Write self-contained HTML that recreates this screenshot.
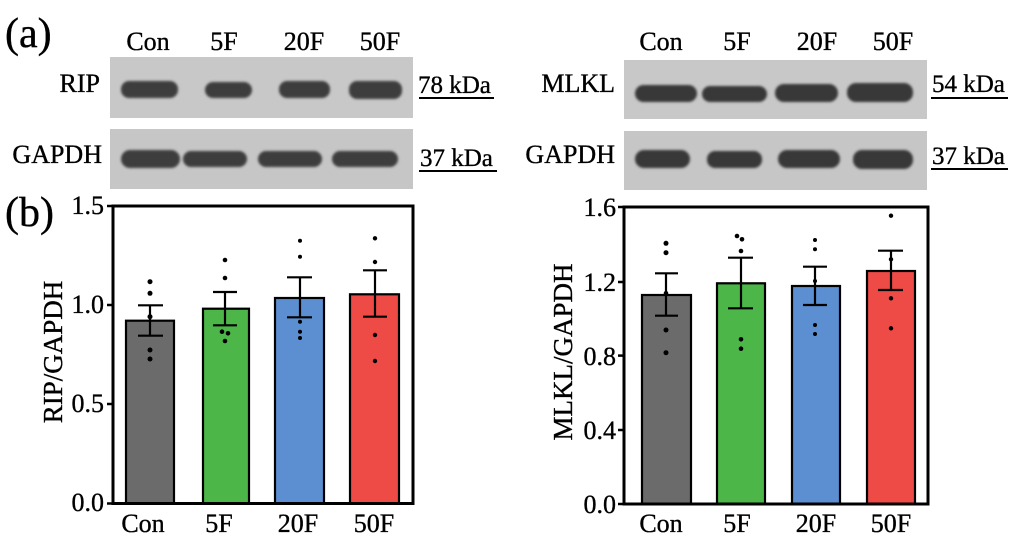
<!DOCTYPE html>
<html><head><meta charset="utf-8"><style>
html,body{margin:0;padding:0;background:#fff;}
svg{display:block;font-family:"Liberation Serif",serif;}
text{stroke:#000;stroke-width:0.35;}
</style></head><body>
<svg width="1015" height="540" viewBox="0 0 1015 540" xmlns="http://www.w3.org/2000/svg">
<defs>
<filter id="bl" x="-20%" y="-50%" width="140%" height="200%"><feGaussianBlur stdDeviation="1.2"/></filter>
</defs>
<rect width="1015" height="540" fill="#fff"/>

<!-- (a) -->
<text x="5" y="47" font-size="42">(a)</text>
<g font-size="26" text-anchor="middle">
<text x="148" y="50">Con</text><text x="224" y="50">5F</text><text x="304" y="50">20F</text><text x="380" y="50">50F</text>
<text x="661" y="50">Con</text><text x="737" y="50">5F</text><text x="817" y="50">20F</text><text x="893" y="50">50F</text>
</g>

<!-- left blots -->
<rect x="110" y="57" width="303" height="61" fill="#c8c8c8"/>
<rect x="110" y="129" width="303" height="60" fill="#c6c6c6"/>
<g fill="#3c3c3c" filter="url(#bl)">
<rect x="121" y="81" width="57" height="17" rx="8"/>
<rect x="205" y="82" width="47" height="16" rx="8"/>
<rect x="279" y="81" width="51" height="17" rx="8"/>
<rect x="349" y="81" width="53" height="18" rx="8"/>
<rect x="121" y="150" width="59" height="18" rx="9"/>
<rect x="183" y="151" width="64" height="16" rx="8"/>
<rect x="258" y="151" width="64" height="16" rx="8"/>
<rect x="332" y="151" width="66" height="16" rx="8"/>
</g>
<g font-size="26">
<text x="100" y="92" text-anchor="end">RIP</text>
<text x="102" y="163" text-anchor="end">GAPDH</text>
<text x="418" y="93" font-size="25">78 kDa</text>
<text x="420" y="166" font-size="25">37 kDa</text>
</g>
<line x1="419" y1="98" x2="494" y2="98" stroke="#000" stroke-width="2"/>
<line x1="419" y1="171" x2="497" y2="171" stroke="#000" stroke-width="2"/>

<!-- right blots -->
<rect x="624" y="60" width="303" height="59" fill="#c8c8c8"/>
<rect x="624" y="131" width="303" height="59" fill="#c6c6c6"/>
<g fill="#383838" filter="url(#bl)">
<rect x="635" y="85" width="62" height="17" rx="8.5"/>
<rect x="702" y="86" width="65" height="16" rx="8"/>
<rect x="775" y="84" width="63" height="18" rx="9"/>
<rect x="847" y="83" width="66" height="19" rx="9"/>
<rect x="635" y="150" width="55" height="18" rx="9"/>
<rect x="707" y="151" width="55" height="17" rx="8"/>
<rect x="778" y="150" width="62" height="18" rx="9"/>
<rect x="853" y="150" width="60" height="19" rx="9"/>
</g>
<g font-size="26">
<text x="615" y="92" text-anchor="end">MLKL</text>
<text x="615" y="163" text-anchor="end">GAPDH</text>
<text x="932" y="92" font-size="25">54 kDa</text>
<text x="932" y="164" font-size="25">37 kDa</text>
</g>
<line x1="931" y1="98" x2="1008" y2="98" stroke="#000" stroke-width="2"/>
<line x1="931" y1="169" x2="1008" y2="169" stroke="#000" stroke-width="2"/>

<!-- (b) -->
<text x="5" y="226" font-size="42">(b)</text>

<!-- left chart -->
<g stroke="#000" stroke-width="2.2">
<rect x="126" y="320.7" width="48" height="182.8" fill="#6b6b6b"/>
<rect x="203" y="308.7" width="46" height="194.8" fill="#4cb748"/>
<rect x="275" y="298" width="49" height="205.5" fill="#5b8fd2"/>
<rect x="350" y="294.3" width="49" height="209.2" fill="#ee4a46"/>
</g>
<g stroke="#000" stroke-width="2.2" fill="none">
<path d="M150 305.3V335.7M138 305.3H163M138 335.7H163"/>
<path d="M225 292V325.3M213 292H237M213 325.3H237"/>
<path d="M300 277.3V317.3M287 277.3H312M287 317.3H312"/>
<path d="M375 270.3V316.7M363 270.3H387M363 316.7H387"/>
</g>
<g fill="#000">
<circle cx="150" cy="281.7" r="2.5"/><circle cx="150" cy="293.3" r="2.5"/><circle cx="150" cy="316.7" r="2.5"/><circle cx="150" cy="350" r="2.5"/><circle cx="150" cy="359" r="2.5"/>
<circle cx="225" cy="260" r="2.3"/><circle cx="225" cy="278" r="2.3"/><circle cx="222" cy="331.7" r="2.3"/><circle cx="228" cy="333.3" r="2.3"/><circle cx="225" cy="341" r="2.3"/>
<circle cx="300" cy="240.7" r="2"/><circle cx="300" cy="256.7" r="2"/><circle cx="300" cy="321.7" r="2"/><circle cx="300" cy="331.7" r="2"/><circle cx="300" cy="338" r="2"/>
<circle cx="375" cy="238.3" r="2.2"/><circle cx="375" cy="262" r="2.2"/><circle cx="375" cy="335" r="2.2"/><circle cx="375" cy="361" r="2.2"/>
</g>
<rect x="113" y="206" width="300" height="297.5" fill="none" stroke="#000" stroke-width="3"/>
<g stroke="#000" stroke-width="2.5">
<line x1="107" y1="206" x2="113" y2="206"/><line x1="107" y1="305" x2="113" y2="305"/><line x1="107" y1="404" x2="113" y2="404"/><line x1="107" y1="503.5" x2="113" y2="503.5"/>
</g>
<g font-size="26" text-anchor="end">
<text x="104" y="214">1.5</text><text x="104" y="313">1.0</text><text x="104" y="412">0.5</text><text x="104" y="511">0.0</text>
</g>
<text transform="translate(62,352) rotate(-90)" font-size="27" text-anchor="middle">RIP/GAPDH</text>
<g font-size="26" text-anchor="middle">
<text x="143" y="532">Con</text><text x="219" y="532">5F</text><text x="298" y="532">20F</text><text x="374" y="532">50F</text>
</g>

<!-- right chart -->
<g stroke="#000" stroke-width="2.2">
<rect x="642" y="295" width="49" height="209" fill="#6b6b6b"/>
<rect x="717" y="283.3" width="48" height="220.7" fill="#4cb748"/>
<rect x="792" y="286" width="48" height="218" fill="#5b8fd2"/>
<rect x="867" y="271" width="48" height="233" fill="#ee4a46"/>
</g>
<g stroke="#000" stroke-width="2.2" fill="none">
<path d="M666 273.3V315.7M655 273.3H678M655 315.7H678"/>
<path d="M741 257.7V308.3M728 257.7H753M728 308.3H753"/>
<path d="M815 266.7V305M803 266.7H827M803 305H827"/>
<path d="M891 250.7V290M878 250.7H903M878 290H903"/>
</g>
<g fill="#000">
<circle cx="666" cy="243.3" r="2.5"/><circle cx="666" cy="252.7" r="2.5"/><circle cx="666" cy="293.3" r="2.3"/><circle cx="666" cy="330" r="2.5"/><circle cx="666" cy="352.7" r="2.5"/>
<circle cx="737" cy="236" r="2.3"/><circle cx="742" cy="239.3" r="2.3"/><circle cx="741" cy="251" r="2.3"/><circle cx="741" cy="339.3" r="2.3"/><circle cx="741" cy="348.7" r="2.3"/>
<circle cx="815" cy="240" r="2"/><circle cx="815" cy="249.3" r="2"/><circle cx="815" cy="281" r="2"/><circle cx="815" cy="325" r="2"/><circle cx="815" cy="334" r="2"/>
<circle cx="891" cy="215.7" r="2.2"/><circle cx="891" cy="259.3" r="2.2"/><circle cx="891" cy="298.3" r="2.2"/><circle cx="891" cy="328.3" r="2.2"/>
</g>
<rect x="624" y="207" width="304" height="297" fill="none" stroke="#000" stroke-width="3"/>
<g stroke="#000" stroke-width="2.5">
<line x1="618" y1="207" x2="624" y2="207"/><line x1="618" y1="282" x2="624" y2="282"/><line x1="618" y1="355.6" x2="624" y2="355.6"/><line x1="618" y1="430" x2="624" y2="430"/><line x1="618" y1="504" x2="624" y2="504"/>
</g>
<g font-size="26" text-anchor="end">
<text x="616" y="216">1.6</text><text x="616" y="291">1.2</text><text x="616" y="365">0.8</text><text x="616" y="439">0.4</text><text x="616" y="513">0.0</text>
</g>
<text transform="translate(572,352) rotate(-90)" font-size="27" text-anchor="middle">MLKL/GAPDH</text>
<g font-size="26" text-anchor="middle">
<text x="661" y="532">Con</text><text x="737" y="532">5F</text><text x="816" y="532">20F</text><text x="891" y="532">50F</text>
</g>
</svg>
</body></html>
